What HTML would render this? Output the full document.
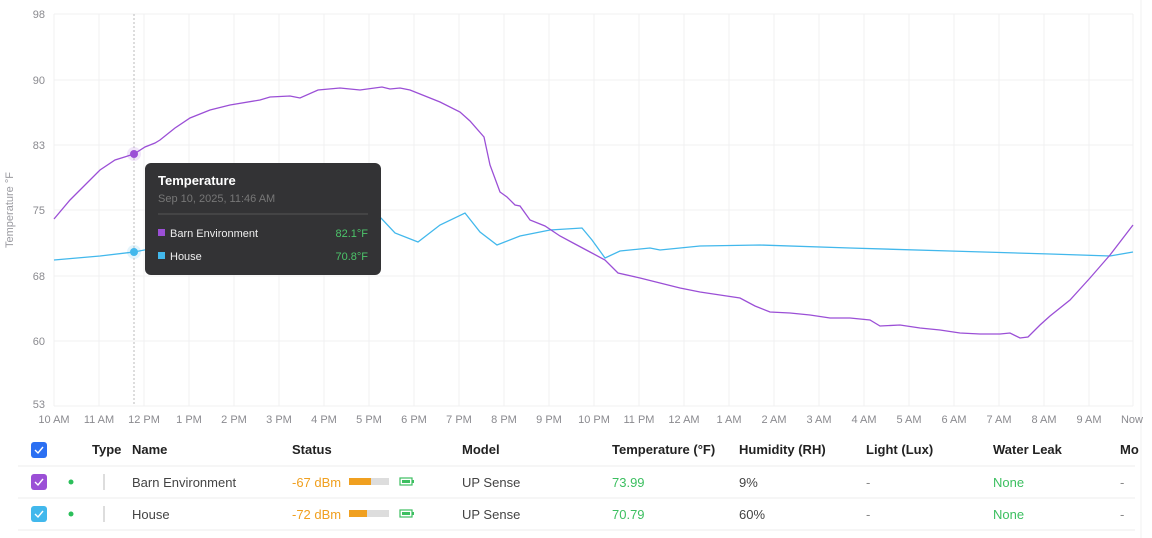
<!DOCTYPE html>
<html><head><meta charset="utf-8"><style>
body{margin:0;background:#fff;font-family:"Liberation Sans",sans-serif;}
svg{display:block}
</style></head><body>
<svg width="1152" height="538" xmlns="http://www.w3.org/2000/svg" font-family="Liberation Sans, sans-serif">
<g stroke="#f0f0f2" stroke-width="1">
<line x1="54" y1="14" x2="1133" y2="14"/><line x1="54" y1="80" x2="1133" y2="80"/><line x1="54" y1="145" x2="1133" y2="145"/><line x1="54" y1="210" x2="1133" y2="210"/><line x1="54" y1="276" x2="1133" y2="276"/><line x1="54" y1="341" x2="1133" y2="341"/><line x1="54" y1="406" x2="1133" y2="406"/>
<line x1="54" y1="14" x2="54" y2="406"/><line x1="99" y1="14" x2="99" y2="406"/><line x1="144" y1="14" x2="144" y2="406"/><line x1="189" y1="14" x2="189" y2="406"/><line x1="234" y1="14" x2="234" y2="406"/><line x1="279" y1="14" x2="279" y2="406"/><line x1="324" y1="14" x2="324" y2="406"/><line x1="369" y1="14" x2="369" y2="406"/><line x1="414" y1="14" x2="414" y2="406"/><line x1="459" y1="14" x2="459" y2="406"/><line x1="504" y1="14" x2="504" y2="406"/><line x1="549" y1="14" x2="549" y2="406"/><line x1="594" y1="14" x2="594" y2="406"/><line x1="639" y1="14" x2="639" y2="406"/><line x1="684" y1="14" x2="684" y2="406"/><line x1="729" y1="14" x2="729" y2="406"/><line x1="774" y1="14" x2="774" y2="406"/><line x1="819" y1="14" x2="819" y2="406"/><line x1="864" y1="14" x2="864" y2="406"/><line x1="909" y1="14" x2="909" y2="406"/><line x1="954" y1="14" x2="954" y2="406"/><line x1="999" y1="14" x2="999" y2="406"/><line x1="1044" y1="14" x2="1044" y2="406"/><line x1="1089" y1="14" x2="1089" y2="406"/><line x1="1133" y1="14" x2="1133" y2="406"/>
<line x1="1141" y1="0" x2="1141" y2="538"/>
</g>
<g font-size="11" fill="#8a8a8f" text-anchor="end">
<text x="45" y="18">98</text><text x="45" y="84">90</text><text x="45" y="149">83</text><text x="45" y="214">75</text><text x="45" y="280">68</text><text x="45" y="345">60</text><text x="45" y="408">53</text>
</g>
<text transform="translate(13,210) rotate(-90)" font-size="11" fill="#9a9aa0" text-anchor="middle">Temperature °F</text>
<g font-size="11" fill="#8a8a8f" text-anchor="middle">
<text x="54" y="423">10 AM</text><text x="99" y="423">11 AM</text><text x="144" y="423">12 PM</text><text x="189" y="423">1 PM</text><text x="234" y="423">2 PM</text><text x="279" y="423">3 PM</text><text x="324" y="423">4 PM</text><text x="369" y="423">5 PM</text><text x="414" y="423">6 PM</text><text x="459" y="423">7 PM</text><text x="504" y="423">8 PM</text><text x="549" y="423">9 PM</text><text x="594" y="423">10 PM</text><text x="639" y="423">11 PM</text><text x="684" y="423">12 AM</text><text x="729" y="423">1 AM</text><text x="774" y="423">2 AM</text><text x="819" y="423">3 AM</text><text x="864" y="423">4 AM</text><text x="909" y="423">5 AM</text><text x="954" y="423">6 AM</text><text x="999" y="423">7 AM</text><text x="1044" y="423">8 AM</text><text x="1089" y="423">9 AM</text><text x="1132" y="423">Now</text>
</g>
<line x1="134" y1="14" x2="134" y2="406" stroke="#bbb" stroke-dasharray="2,2"/>
<polyline fill="none" stroke="#42b8ec" stroke-width="1.3" points="54,260 100,256 134,252 160,247 200,240 260,232 320,225 360,220 381,218 395,233 418,242 440,225 465,213 480,232 497,245 520,236 550,230 582,228 592,240 605,258 620,251 650,248 660,250 700,246 760,245 850,248 950,251 1050,254 1110,256 1133,252"/>
<polyline fill="none" stroke="#9b4fd6" stroke-width="1.3" points="54,219 70,200 85,185 100,170 115,160 134,154 145,147 155,143 160,140 175,128 190,118 210,110 230,105 260,100 270,97 290,96 300,98 318,90 340,88 360,90 382,87 390,89 400,88 410,90 420,94 440,102 460,112 470,121 484,137 490,165 500,192 507,197 515,205 520,206 530,220 545,226 560,236 575,244 590,252 605,260 618,273 640,278 660,283 680,288 700,292 720,295 740,298 755,306 770,312 790,313 810,315 830,318 850,318 870,320 880,326 900,325 920,328 940,330 960,333 980,334 1000,334 1010,333 1020,338 1028,337 1040,325 1050,316 1070,300 1090,278 1110,255 1133,225"/>
<circle cx="134" cy="154" r="7" fill="#9b4fd6" opacity="0.15"/><circle cx="134" cy="154" r="4" fill="#9b4fd6"/>
<circle cx="134" cy="252" r="7" fill="#42b8ec" opacity="0.15"/><circle cx="134" cy="252" r="4" fill="#42b8ec"/>
<rect x="145" y="163" width="236" height="112" rx="6" fill="#333335"/>
<text x="158" y="185" font-size="13" font-weight="bold" fill="#fff">Temperature</text>
<text x="158" y="202" font-size="11" fill="#777">Sep 10, 2025, 11:46 AM</text>
<line x1="158" y1="214" x2="368" y2="214" stroke="#555"/>
<rect x="158" y="229" width="7" height="7" fill="#9b4fd6"/><text x="170" y="237" font-size="11" fill="#eee">Barn Environment</text><text x="368" y="237" font-size="11" fill="#4cc46a" text-anchor="end">82.1°F</text>
<rect x="158" y="252" width="7" height="7" fill="#42b8ec"/><text x="170" y="260" font-size="11" fill="#eee">House</text><text x="368" y="260" font-size="11" fill="#4cc46a" text-anchor="end">70.8°F</text>
<!-- table -->
<rect x="31" y="442" width="16" height="16" rx="3" fill="#2b6ff2"/><path d="M35 450 l3 3 l5 -6" stroke="#fff" fill="none" stroke-width="1.4"/>
<g font-size="13" font-weight="bold" fill="#222">
<text x="92" y="454">Type</text><text x="132" y="454">Name</text><text x="292" y="454">Status</text><text x="462" y="454">Model</text><text x="612" y="454">Temperature (°F)</text><text x="739" y="454">Humidity (RH)</text><text x="866" y="454">Light (Lux)</text><text x="993" y="454">Water Leak</text><text x="1120" y="454">Mo</text>
</g>
<line x1="18" y1="466" x2="1135" y2="466" stroke="#ececee"/>
<line x1="18" y1="498" x2="1135" y2="498" stroke="#ececee"/>
<line x1="18" y1="530" x2="1135" y2="530" stroke="#ececee"/>
<rect x="31" y="474" width="16" height="16" rx="3" fill="#9b4fd6"/><path d="M35 482 l3 3 l5 -6" stroke="#fff" fill="none" stroke-width="1.4"/>
<rect x="31" y="506" width="16" height="16" rx="3" fill="#42b8ec"/><path d="M35 514 l3 3 l5 -6" stroke="#fff" fill="none" stroke-width="1.4"/>
<circle cx="71" cy="482" r="2.5" fill="#2bbf5a"/><circle cx="71" cy="514" r="2.5" fill="#2bbf5a"/>
<rect x="103" y="474" width="2" height="16" fill="#ddd"/><rect x="103" y="506" width="2" height="16" fill="#ddd"/>
<g font-size="13">
<text x="132" y="487" fill="#444">Barn Environment</text><text x="132" y="519" fill="#444">House</text>
<text x="292" y="487" fill="#f0a020">-67 dBm</text><text x="292" y="519" fill="#f0a020">-72 dBm</text>
<text x="462" y="487" fill="#444">UP Sense</text><text x="462" y="519" fill="#444">UP Sense</text>
<text x="612" y="487" fill="#3cbf60">73.99</text><text x="612" y="519" fill="#3cbf60">70.79</text>
<text x="739" y="487" fill="#444">9%</text><text x="739" y="519" fill="#444">60%</text>
<text x="866" y="487" fill="#888">-</text><text x="866" y="519" fill="#888">-</text>
<text x="993" y="487" fill="#3cbf60">None</text><text x="993" y="519" fill="#3cbf60">None</text>
<text x="1120" y="487" fill="#888">-</text><text x="1120" y="519" fill="#888">-</text>
</g>
<g>
<rect x="349" y="478" width="22" height="7" fill="#f0a020"/><rect x="371" y="478" width="18" height="7" fill="#ddd"/>
<rect x="349" y="510" width="18" height="7" fill="#f0a020"/><rect x="367" y="510" width="22" height="7" fill="#ddd"/>
<rect x="400" y="478" width="12" height="7" fill="none" stroke="#3cbf60" stroke-width="1.2"/><rect x="402" y="480" width="8" height="3" fill="#3cbf60"/><rect x="412" y="480" width="2" height="3" fill="#3cbf60"/>
<rect x="400" y="510" width="12" height="7" fill="none" stroke="#3cbf60" stroke-width="1.2"/><rect x="402" y="512" width="8" height="3" fill="#3cbf60"/><rect x="412" y="512" width="2" height="3" fill="#3cbf60"/>
</g>
</svg>
</body></html>
